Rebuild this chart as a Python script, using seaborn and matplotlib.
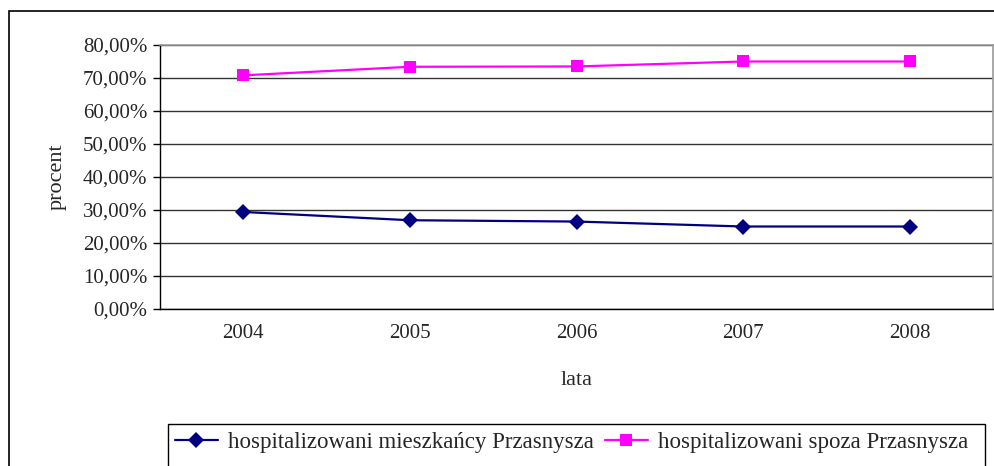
import matplotlib
matplotlib.use("Agg")
import matplotlib.pyplot as plt
from matplotlib.patches import Rectangle
from matplotlib.ticker import FuncFormatter, FixedLocator
import pandas as pd
import seaborn as sns

years = ["2004", "2005", "2006", "2007", "2008"]
mieszkancy = [29.4, 26.9, 26.5, 25.0, 25.0]
spoza = [70.8, 73.4, 73.5, 75.0, 75.0]
series_names = ["hospitalizowani mieszkańcy Przasnysza", "hospitalizowani spoza Przasnysza"]

df = pd.DataFrame({
    "rok": years * 2,
    "procent": mieszkancy + spoza,
    "seria": [series_names[0]] * len(years) + [series_names[1]] * len(years),
})

sns.set_style("white")
plt.rcParams["font.family"] = ["Liberation Serif", "DejaVu Serif"]

fig = plt.figure(figsize=(9.94, 4.66), dpi=100)
ax = fig.add_axes([160 / 994, 1 - 309 / 466, 833 / 994, 264 / 466])

sns.lineplot(data=df, x="rok", y="procent", hue="seria", style="seria",
             palette={series_names[0]: "#000080", series_names[1]: "#FF00FF"},
             markers={series_names[0]: "D", series_names[1]: "s"},
             dashes=False, markersize=8, linewidth=1.6, markeredgewidth=0,
             ax=ax, legend=True)

ax.set_xlim(-0.5, 4.5)
ax.set_ylim(0, 80)
ax.set_yticks(range(0, 81, 10))
ax.yaxis.set_major_formatter(FuncFormatter(lambda v, p: f"{v:.2f}".replace(".", ",") + "%"))
ax.grid(axis="y", color="#333333", linewidth=1)
ax.set_axisbelow(True)

ax.xaxis.set_minor_locator(FixedLocator([i - 0.5 for i in range(6)]))
ax.tick_params(axis="x", which="major", length=0, pad=11, labelsize=15)
ax.tick_params(axis="x", which="minor", length=5, width=1, color="black", direction="out")
ax.tick_params(axis="y", length=5, width=1, color="black", direction="out", left=True, labelsize=15, pad=4)

for side in ["left", "bottom"]:
    ax.spines[side].set_color("black")
    ax.spines[side].set_linewidth(1)
for side in ["top", "right"]:
    ax.spines[side].set_color("#999999")
    ax.spines[side].set_linewidth(1.2)

ax.set_xlabel("lata", fontsize=16, labelpad=20)
ax.set_ylabel("procent", fontsize=16, labelpad=12)

handles, labels = ax.get_legend_handles_labels()
ax.get_legend().remove()
fig.legend(handles, labels, ncol=2, loc="upper left",
           bbox_to_anchor=(170 / 994, 1 - 427 / 466),
           borderaxespad=0, frameon=False, fontsize=16.5,
           handlelength=1.9, handletextpad=0.45, columnspacing=0.45, borderpad=0.2)

# legend box (runs off the bottom edge like the original)
fig.patches.append(Rectangle((168 / 994, -0.1), (985 - 168) / 994, 0.1 + 1 - 424 / 466,
                             transform=fig.transFigure, fill=False,
                             edgecolor="black", linewidth=1))
# outer chart border
fig.patches.append(Rectangle((9 / 994, -0.1), 1.2, 1 - 11 / 466 + 0.1,
                             transform=fig.transFigure, fill=False,
                             edgecolor="black", linewidth=1.2))

fig.savefig("out.png", dpi=100)
